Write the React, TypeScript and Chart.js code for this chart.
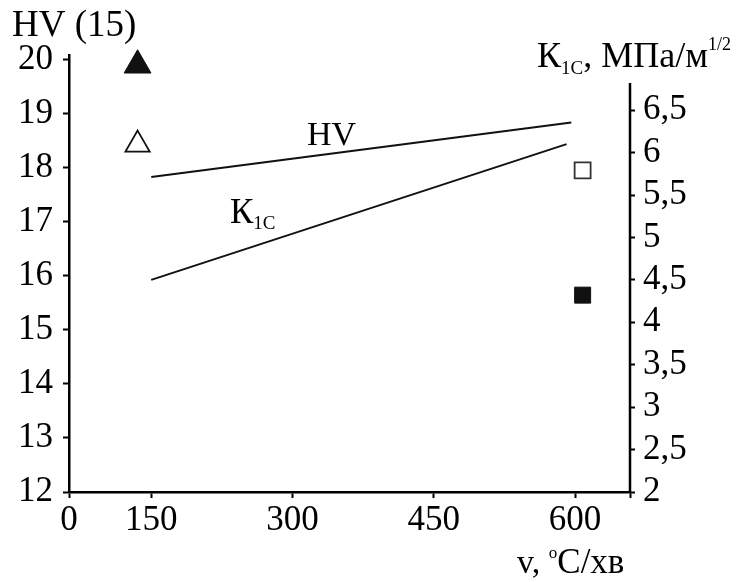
import React, { useEffect, useRef } from 'react';
import { Chart, registerables } from 'chart.js';
Chart.register(...registerables);

// ---- data ----
const xOriginLabel = '0';
const xTickValues = [150, 300, 450, 600];
const hvTickValues = [12, 13, 14, 15, 16, 17, 18, 19, 20];
const kTickValues = [2, 2.5, 3, 3.5, 4, 4.5, 5, 5.5, 6, 6.5];

const hvLineX = [150, 596];
const hvLineY = [17.83, 18.84];
const kLineX = [150, 591];
const kLineY = [4.5, 6.1];

const triX = [135.5];
const triFilledHV = [19.9];
const triOpenHV = [18.43];
const sqX = [608];
const sqOpenK = [5.79];
const sqFilledK = [4.32];

// axis ranges (the x axis is broken between 0 and 150)
const X_MIN = 62.7;
const X_MAX = 658.3;
const HV_MIN = 12;
const HV_MAX = 20.09;
const K_MIN = 2;
const K_MAX = 7.15;

const FONT = 'Liberation Serif, Times New Roman, serif';

const pts = (xs: number[], ys: number[]) => xs.map((x, i) => ({ x, y: ys[i] }));

type Seg = { t: string; size: number; dy?: number };
function drawRich(ctx: CanvasRenderingContext2D, x: number, y: number, segs: Seg[]) {
  let cx = x;
  for (const s of segs) {
    ctx.font = `${s.size}px ${FONT}`;
    ctx.fillText(s.t, cx, y + (s.dy || 0));
    cx += ctx.measureText(s.t).width;
  }
}

const textPlugin = {
  id: 'texts',
  afterDraw(chart: any) {
    const ctx: CanvasRenderingContext2D = chart.ctx;
    const { right, bottom, top } = chart.chartArea;
    ctx.save();
    // right axis line (shorter than the left one)
    ctx.strokeStyle = '#000';
    ctx.lineWidth = 2.5;
    ctx.beginPath();
    ctx.moveTo(right, top + 28);
    ctx.lineTo(right, bottom);
    ctx.stroke();

    ctx.fillStyle = '#000';
    ctx.textBaseline = 'alphabetic';
    ctx.textAlign = 'left';
    // left axis title
    drawRich(ctx, 12, 36, [{ t: 'HV (15)', size: 37 }]);
    // right axis title
    drawRich(ctx, 537, 67, [
      { t: 'К', size: 36 },
      { t: '1С', size: 19, dy: 7 },
      { t: ', МПа/м', size: 36 },
      { t: '1/2', size: 18, dy: -17 },
    ]);
    // x axis title
    drawRich(ctx, 517, 573, [
      { t: 'v, ', size: 34 },
      { t: 'o', size: 17, dy: -15 },
      { t: 'C/хв', size: 35 },
    ]);
    // inline labels
    drawRich(ctx, 307, 145, [{ t: 'HV', size: 34 }]);
    drawRich(ctx, 230, 223, [
      { t: 'К', size: 35 },
      { t: '1С', size: 19, dy: 6 },
    ]);
    ctx.restore();
  },
};

export default function App() {
  const ref = useRef<HTMLCanvasElement | null>(null);
  useEffect(() => {
    if (!ref.current) return;
    const tickFont = { family: FONT, size: 35 };
    const chart = new Chart(ref.current, {
      type: 'scatter',
      data: {
        datasets: [
          {
            label: 'HV',
            data: pts(hvLineX, hvLineY),
            yAxisID: 'yHV',
            showLine: true,
            borderColor: '#111',
            borderWidth: 2,
            pointRadius: 0,
          },
          {
            label: 'K1C',
            data: pts(kLineX, kLineY),
            yAxisID: 'yK',
            showLine: true,
            borderColor: '#111',
            borderWidth: 2,
            pointRadius: 0,
          },
          {
            label: 'HV filled',
            data: pts(triX, triFilledHV),
            yAxisID: 'yHV',
            clip: false,
            pointStyle: 'triangle',
            pointRadius: 15.5,
            backgroundColor: '#111',
            borderColor: '#111',
            borderWidth: 1,
          },
          {
            label: 'HV open',
            data: pts(triX, triOpenHV),
            yAxisID: 'yHV',
            clip: false,
            pointStyle: 'triangle',
            pointRadius: 14,
            backgroundColor: '#fff',
            borderColor: '#111',
            borderWidth: 1.8,
          },
          {
            label: 'K open',
            data: pts(sqX, sqOpenK),
            yAxisID: 'yK',
            clip: false,
            pointStyle: 'rect',
            pointRadius: 11.3,
            backgroundColor: '#fff',
            borderColor: '#333',
            borderWidth: 1.8,
          },
          {
            label: 'K filled',
            data: pts(sqX, sqFilledK),
            yAxisID: 'yK',
            clip: false,
            pointStyle: 'rect',
            pointRadius: 11.3,
            backgroundColor: '#111',
            borderColor: '#111',
            borderWidth: 1,
          },
        ],
      },
      options: {
        animation: false,
        responsive: false,
        layout: { padding: { top: 55, left: 0, right: 0, bottom: 0 } },
        plugins: { legend: { display: false }, tooltip: { enabled: false } },
        scales: {
          x: {
            type: 'linear',
            min: X_MIN,
            max: X_MAX,
            afterBuildTicks: (s: any) => {
              s.ticks = [X_MIN, ...xTickValues, X_MAX].map((v) => ({ value: v }));
            },
            afterFit: (s: any) => {
              s.height = 90;
            },
            ticks: {
              font: tickFont,
              color: '#000',
              padding: 2,
              maxRotation: 0,
              autoSkip: false,
              callback: (v: any) =>
                v === X_MIN ? xOriginLabel : v === X_MAX ? '' : String(v),
            },
            grid: {
              drawOnChartArea: false,
              drawTicks: true,
              tickLength: 6,
              tickColor: '#000',
              tickWidth: 2,
            },
            border: { display: true, color: '#000', width: 2.5 },
          },
          yHV: {
            type: 'linear',
            position: 'left',
            min: HV_MIN,
            max: HV_MAX,
            afterBuildTicks: (s: any) => {
              s.ticks = hvTickValues.map((v) => ({ value: v }));
            },
            afterFit: (s: any) => {
              s.width = 69;
            },
            ticks: { font: tickFont, color: '#000', padding: 10, autoSkip: false },
            grid: {
              drawOnChartArea: false,
              drawTicks: true,
              tickLength: 6,
              tickColor: '#000',
              tickWidth: 2,
            },
            border: { display: true, color: '#000', width: 2.5 },
          },
          yK: {
            type: 'linear',
            position: 'right',
            min: K_MIN,
            max: K_MAX,
            afterBuildTicks: (s: any) => {
              s.ticks = kTickValues.map((v) => ({ value: v }));
            },
            afterFit: (s: any) => {
              s.width = 110;
            },
            ticks: {
              font: tickFont,
              color: '#000',
              padding: 8,
              autoSkip: false,
              callback: (v: any) => String(v).replace('.', ','),
            },
            grid: {
              drawOnChartArea: false,
              drawTicks: true,
              tickLength: 5,
              tickColor: '#000',
              tickWidth: 2,
            },
            border: { display: false },
          },
        },
      } as any,
      plugins: [textPlugin],
    });
    return () => chart.destroy();
  }, []);

  return (
    <div style={{ position: 'absolute', left: 0, top: 0, width: 740, height: 582, background: '#fff' }}>
      <canvas ref={ref} width={740} height={582} style={{ width: 740, height: 582, display: 'block' }} />
    </div>
  );
}
